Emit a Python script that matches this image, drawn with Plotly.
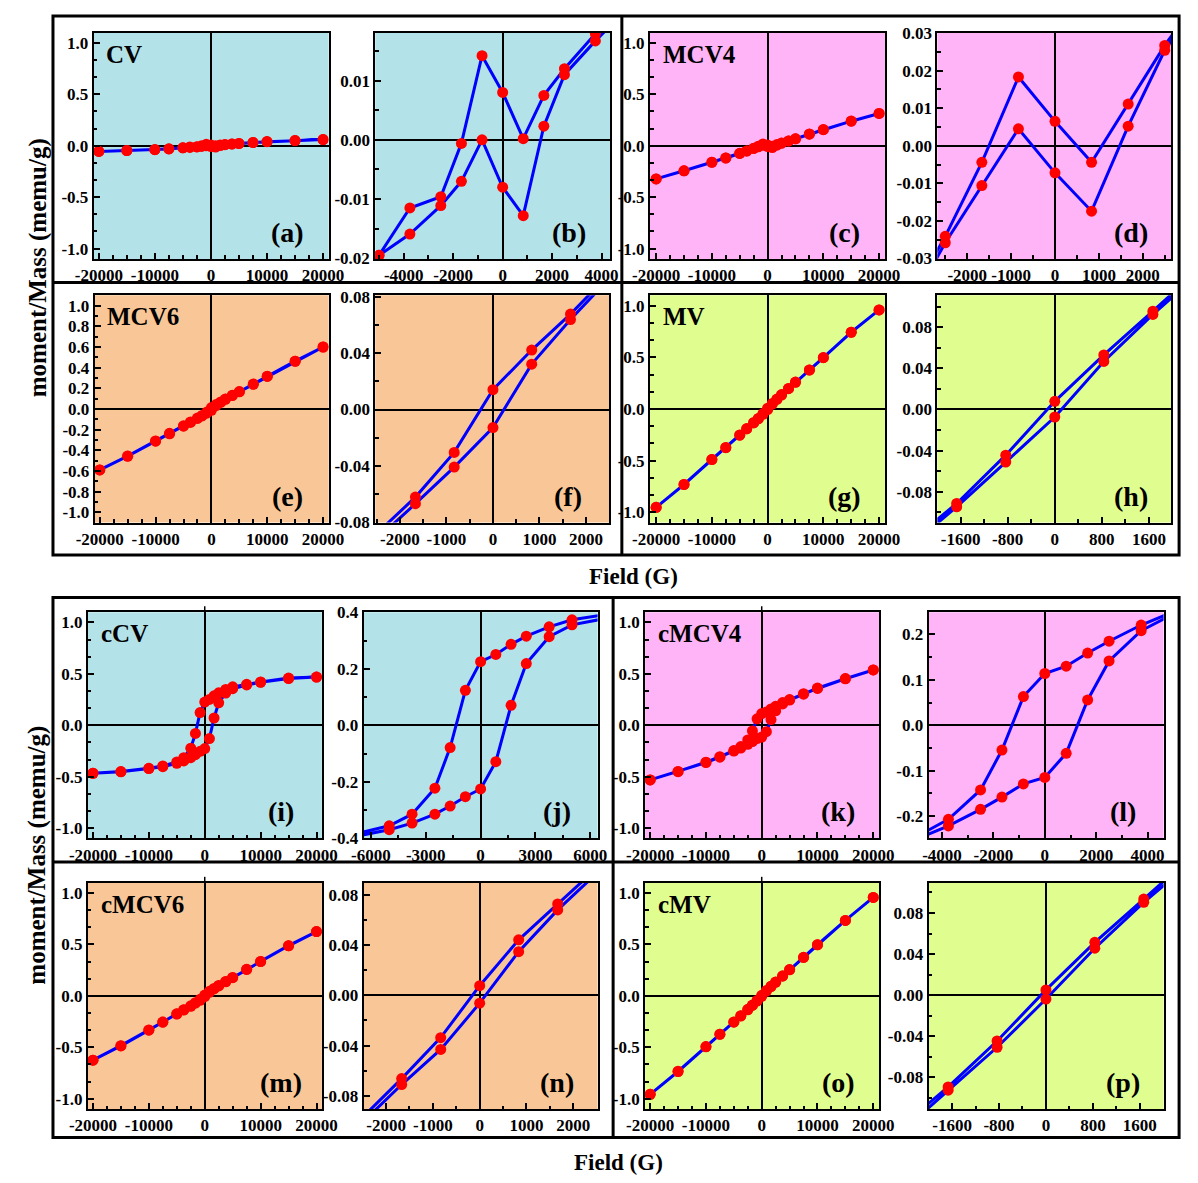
import math
import plotly.graph_objects as go

W, H = 1198, 1183

# ---------------- data ----------------
H_DESC = [20000, 15000, 10000, 7500, 5000, 3750, 2500, 1667, 833, 0,
          -833, -1667, -2500, -3750, -5000, -7500, -10000, -15000, -20000]
H_ASC = list(reversed(H_DESC))

CV_DESC = [0.060, 0.051, 0.041, 0.032, 0.023, 0.0179, 0.0120, 0.0075, 0.0002, 0.0080,
           0.0142, -0.0006, -0.0096, -0.0115, -0.0195, -0.030, -0.037, -0.046, -0.055]
CV_ASC = [-0.055, -0.047, -0.038, -0.031, -0.0195, -0.0159, -0.0111, -0.0070, 0.0000, -0.0080,
          -0.0128, 0.0023, 0.0110, 0.0167, 0.022, 0.031, 0.040, 0.050, 0.060]
MCV4_DESC = [0.314, 0.240, 0.157, 0.115, 0.068, 0.047, 0.0267, 0.0111, -0.0044, 0.0065,
             0.0183, -0.0044, -0.0241, -0.050, -0.073, -0.118, -0.160, -0.243, -0.322]
MCV4_ASC = [-0.322, -0.244, -0.161, -0.120, -0.075, -0.052, -0.0258, -0.0106, 0.0045, -0.0072,
            -0.0174, 0.0052, 0.0254, 0.046, 0.067, 0.113, 0.156, 0.239, 0.314]
MCV6_DESC = [0.600, 0.463, 0.317, 0.241, 0.168, 0.133, 0.096, 0.0677, 0.0422, 0.0141,
             -0.0304, -0.0621, -0.088, -0.125, -0.163, -0.236, -0.309, -0.455, -0.590]
MCV6_ASC = [-0.590, -0.458, -0.312, -0.240, -0.167, -0.130, -0.092, -0.0668, -0.0408, -0.0128,
            0.0322, 0.0638, 0.093, 0.130, 0.166, 0.239, 0.315, 0.462, 0.600]
MV_DESC = [0.959, 0.743, 0.498, 0.378, 0.260, 0.199, 0.139, 0.0956, 0.0530, 0.0079,
           -0.0444, -0.0914, -0.131, -0.190, -0.252, -0.373, -0.488, -0.730, -0.952]
MV_ASC = [-0.952, -0.731, -0.490, -0.375, -0.254, -0.193, -0.135, -0.0946, -0.0511, -0.0073,
          0.0467, 0.0924, 0.135, 0.196, 0.258, 0.377, 0.497, 0.742, 0.959]
CCV_DESC = [0.469, 0.459, 0.421, 0.399, 0.374, 0.349, 0.316, 0.287, 0.251, 0.2256,
            0.124, -0.079, -0.223, -0.315, -0.356, -0.395, -0.418, -0.450, -0.466]
CCV_ASC = [-0.466, -0.452, -0.421, -0.402, -0.370, -0.3465, -0.315, -0.286, -0.253, -0.2256,
           -0.129, 0.071, 0.219, 0.314, 0.356, 0.392, 0.418, 0.455, 0.469]
CMCV4_DESC = [0.538, 0.454, 0.362, 0.307, 0.250, 0.2207, 0.185, 0.159, 0.130, 0.114,
              0.0632, -0.0544, -0.1423, -0.207, -0.245, -0.305, -0.358, -0.448, -0.531]
CMCV4_ASC = [-0.531, -0.451, -0.362, -0.310, -0.250, -0.2214, -0.185, -0.158, -0.129, -0.1147,
             -0.0617, 0.0559, 0.1416, 0.2083, 0.245, 0.303, 0.358, 0.452, 0.538]
CMCV6_DESC = [0.625, 0.488, 0.335, 0.258, 0.179, 0.140, 0.101, 0.0726, 0.0441, 0.0076,
              -0.0337, -0.0663, -0.097, -0.134, -0.174, -0.254, -0.331, -0.484, -0.625]
CMCV6_ASC = [-0.625, -0.486, -0.333, -0.256, -0.177, -0.138, -0.101, -0.0710, -0.0431, -0.0063,
             0.0347, 0.0679, 0.097, 0.137, 0.177, 0.257, 0.334, 0.487, 0.625]
CMV_DESC = [0.957, 0.734, 0.498, 0.375, 0.256, 0.195, 0.136, 0.0936, 0.0514, 0.0051,
            -0.0447, -0.0894, -0.131, -0.192, -0.253, -0.372, -0.493, -0.733, -0.957]
CMV_ASC = [-0.957, -0.735, -0.495, -0.374, -0.256, -0.196, -0.135, -0.0926, -0.0508, -0.0038,
           0.0457, 0.0904, 0.132, 0.192, 0.254, 0.374, 0.497, 0.734, 0.957]

SAMPLES = {
    "CV": (CV_DESC, CV_ASC), "MCV4": (MCV4_DESC, MCV4_ASC),
    "MCV6": (MCV6_DESC, MCV6_ASC), "MV": (MV_DESC, MV_ASC),
    "cCV": (CCV_DESC, CCV_ASC), "cMCV4": (CMCV4_DESC, CMCV4_ASC),
    "cMCV6": (CMCV6_DESC, CMCV6_ASC), "cMV": (CMV_DESC, CMV_ASC),
}

BG = {"CV": "#B3E3E9", "MCV4": "#FEB4F6", "MCV6": "#F9C797", "MV": "#E0FD8F"}

# letter, sample, show name, pixel box (l, r, t, b), x range, y range,
# x major, x minor, y major, y minor, y decimals
PANELS = [
    ("a", "CV", True, (77, 319, 24, 254), (-20900, 21000), (-1.1, 1.1), 10000, 2500, 0.5, 0.5 / 3, 1),
    ("b", "CV", False, (367, 609, 24, 254), (-5150, 4350), (-0.0201, 0.0181), 2000, 1000, 0.01, 0.005, 2),
    ("c", "MCV4", True, (650, 892, 24, 254), (-21100, 21050), (-1.1, 1.1), 10000, 2500, 0.5, 0.5 / 3, 1),
    ("d", "MCV4", False, (946, 1187, 24, 254), (-2680, 2650), (-0.0301, 0.0301), 1000, 500, 0.01, 0.005, 2),
    ("e", "MCV6", True, (78, 319, 291, 522), (-20900, 21000), (-1.1, 1.1), 10000, 2500, 0.2, 0.1, 1),
    ("f", "MCV6", False, (367, 608, 291, 522), (-2530, 2500), (-0.0802, 0.081), 1000, 500, 0.04, 0.02, 2),
    ("g", "MV", True, (650, 892, 291, 522), (-21100, 21050), (-1.1, 1.1), 10000, 2500, 0.5, 0.5 / 3, 1),
    ("h", "MV", False, (946, 1187, 291, 522), (-1995, 1980), (-0.11, 0.111), 800, 400, 0.04, 0.02, 2),
    ("i", "cCV", True, (71, 312, 613, 843), (-20900, 20960), (-1.1, 1.1), 10000, 2500, 0.5, 0.5 / 3, 1),
    ("j", "cCV", False, (355, 596, 613, 843), (-6400, 6400), (-0.401, 0.401), 3000, 1500, 0.2, 0.1, 1),
    ("k", "cMCV4", True, (645, 886, 613, 843), (-20900, 21050), (-1.1, 1.1), 10000, 2500, 0.5, 0.5 / 3, 1),
    ("l", "cMCV4", False, (937, 1179, 613, 843), (-4520, 4620), (-0.249, 0.249), 2000, 1000, 0.1, 0.05, 1),
    ("m", "cMCV6", True, (71, 312, 888, 1118), (-20900, 20960), (-1.1, 1.1), 10000, 2500, 0.5, 0.5 / 3, 1),
    ("n", "cMCV6", False, (355, 596, 888, 1118), (-2480, 2520), (-0.0905, 0.0895), 1000, 500, 0.04, 0.02, 2),
    ("o", "cMV", True, (645, 886, 888, 1118), (-20900, 21050), (-1.1, 1.1), 10000, 2500, 0.5, 0.5 / 3, 1),
    ("p", "cMV", False, (937, 1179, 888, 1118), (-2000, 2005), (-0.111, 0.1095), 800, 400, 0.04, 0.02, 2),
]

FONT = "Liberation Serif"


def px(x):
    return x / W


def py(y):
    return 1 - y / H


def ticks(lo, hi, step, dec):
    k0 = math.ceil(lo / step - 1e-6)
    k1 = math.floor(hi / step + 1e-6)
    vals, txt = [], []
    for k in range(k0, k1 + 1):
        v = round(k * step, 6)
        vals.append(v)
        s = f"{abs(v):.{dec}f}"
        txt.append(("-" if v < 0 else "") + s)
    return vals, txt


fig = go.Figure()
shapes = []
annotations = []
layout_axes = {}

for idx, (letter, name, show_name, box, xr, yr, xmaj, xmin, ymaj, ymin, ydec) in enumerate(PANELS):
    n = idx + 1
    xa = "x" if n == 1 else f"x{n}"
    ya = "y" if n == 1 else f"y{n}"
    l, r, t, b = box
    base = name[1:] if name.startswith("c") else name
    desc, asc = SAMPLES[name]
    fig.add_trace(go.Scatter(
        x=H_DESC + H_ASC, y=desc + asc, xaxis=xa, yaxis=ya,
        mode="lines+markers",
        line=dict(color="#0000FF", width=3),
        marker=dict(color="#FF0000", size=11),
        showlegend=False, hoverinfo="skip",
    ))
    xv, xt = ticks(xr[0], xr[1], xmaj, 0)
    yv, yt = ticks(yr[0], yr[1], ymaj, ydec)
    common = dict(
        showline=True, linecolor="black", linewidth=2, mirror=True,
        showgrid=False, zeroline=True, zerolinecolor="black", zerolinewidth=1.5,
        ticks="inside", ticklen=6, tickwidth=1.5, tickcolor="black",
        tickfont=dict(family=FONT, size=17, color="black", weight="bold"),
        tickmode="array", fixedrange=True,
    )
    layout_axes["xaxis" if n == 1 else f"xaxis{n}"] = dict(
        common, domain=[px(l), px(r)], range=list(xr), anchor=ya,
        tickvals=xv, ticktext=xt,
        minor=dict(tickmode="linear", tick0=0, dtick=xmin, ticks="inside",
                   ticklen=3.5, tickwidth=1.5, tickcolor="black"),
    )
    layout_axes["yaxis" if n == 1 else f"yaxis{n}"] = dict(
        common, domain=[py(b), py(t)], range=list(yr), anchor=xa,
        tickvals=yv, ticktext=yt,
        minor=dict(tickmode="linear", tick0=0, dtick=ymin, ticks="inside",
                   ticklen=3.5, tickwidth=1.5, tickcolor="black"),
    )
    shapes.append(dict(type="rect", xref=f"{xa} domain", yref=f"{ya} domain",
                       x0=0, x1=1, y0=0, y1=1, fillcolor=BG[base],
                       line=dict(width=0), layer="below"))
    if show_name:
        annotations.append(dict(text=name, x=px(l + 11), y=py(t + 22), xref="paper", yref="paper",
                                xanchor="left", yanchor="middle", showarrow=False,
                                font=dict(family=FONT, size=25, color="black", weight="bold")))
        if t > 600:
            # zero line of the bottom full-range panels pokes above the frame
            x0p = l + (0 - xr[0]) / (xr[1] - xr[0]) * (r - l)
            shapes.append(dict(type="line", xref="paper", yref="paper",
                               x0=px(x0p), x1=px(x0p), y0=py(t), y1=py(t - 6),
                               line=dict(color="black", width=1.5)))
    annotations.append(dict(text=f"({letter})", x=px(r - 42), y=py(b - 27), xref="paper", yref="paper",
                            xanchor="center", yanchor="middle", showarrow=False,
                            font=dict(family=FONT, size=28, color="black", weight="bold")))

# frames
FRAME = dict(color="black", width=3)
for (x0, y0, x1, y1, xd, yd) in [(35, 7, 1195, 555, 621, 278), (35, 598, 1195, 1147, 612, 867)]:
    shapes.append(dict(type="rect", xref="paper", yref="paper", x0=px(x0), x1=px(x1),
                       y0=py(y0), y1=py(y1), line=FRAME, layer="above"))
    shapes.append(dict(type="line", xref="paper", yref="paper", x0=px(xd), x1=px(xd),
                       y0=py(y0), y1=py(y1), line=FRAME))
    shapes.append(dict(type="line", xref="paper", yref="paper", x0=px(x0), x1=px(x1),
                       y0=py(yd), y1=py(yd), line=FRAME))

for yc in [263, 860]:
    annotations.append(dict(text="moment/Mass (memu/g)", x=px(19), y=py(yc), xref="paper", yref="paper",
                            textangle=-90, showarrow=False, xanchor="center", yanchor="middle",
                            font=dict(family=FONT, size=25, color="black", weight="bold")))
for (xc, fy) in [(633, 577), (618, 1172)]:
    annotations.append(dict(text="Field (G)", x=px(xc), y=py(fy), xref="paper", yref="paper",
                            showarrow=False, xanchor="center", yanchor="middle",
                            font=dict(family=FONT, size=23, color="black", weight="bold")))

fig.update_layout(
    width=W, height=H, margin=dict(l=0, r=0, t=0, b=0),
    paper_bgcolor="white", plot_bgcolor="rgba(0,0,0,0)",
    shapes=shapes, annotations=annotations, showlegend=False,
    font=dict(family=FONT, color="black"),
    **layout_axes,
)

fig.write_html("out.html", config={"displayModeBar": False},
               post_script="document.body.style.margin='0';document.documentElement.style.overflow='hidden';")
